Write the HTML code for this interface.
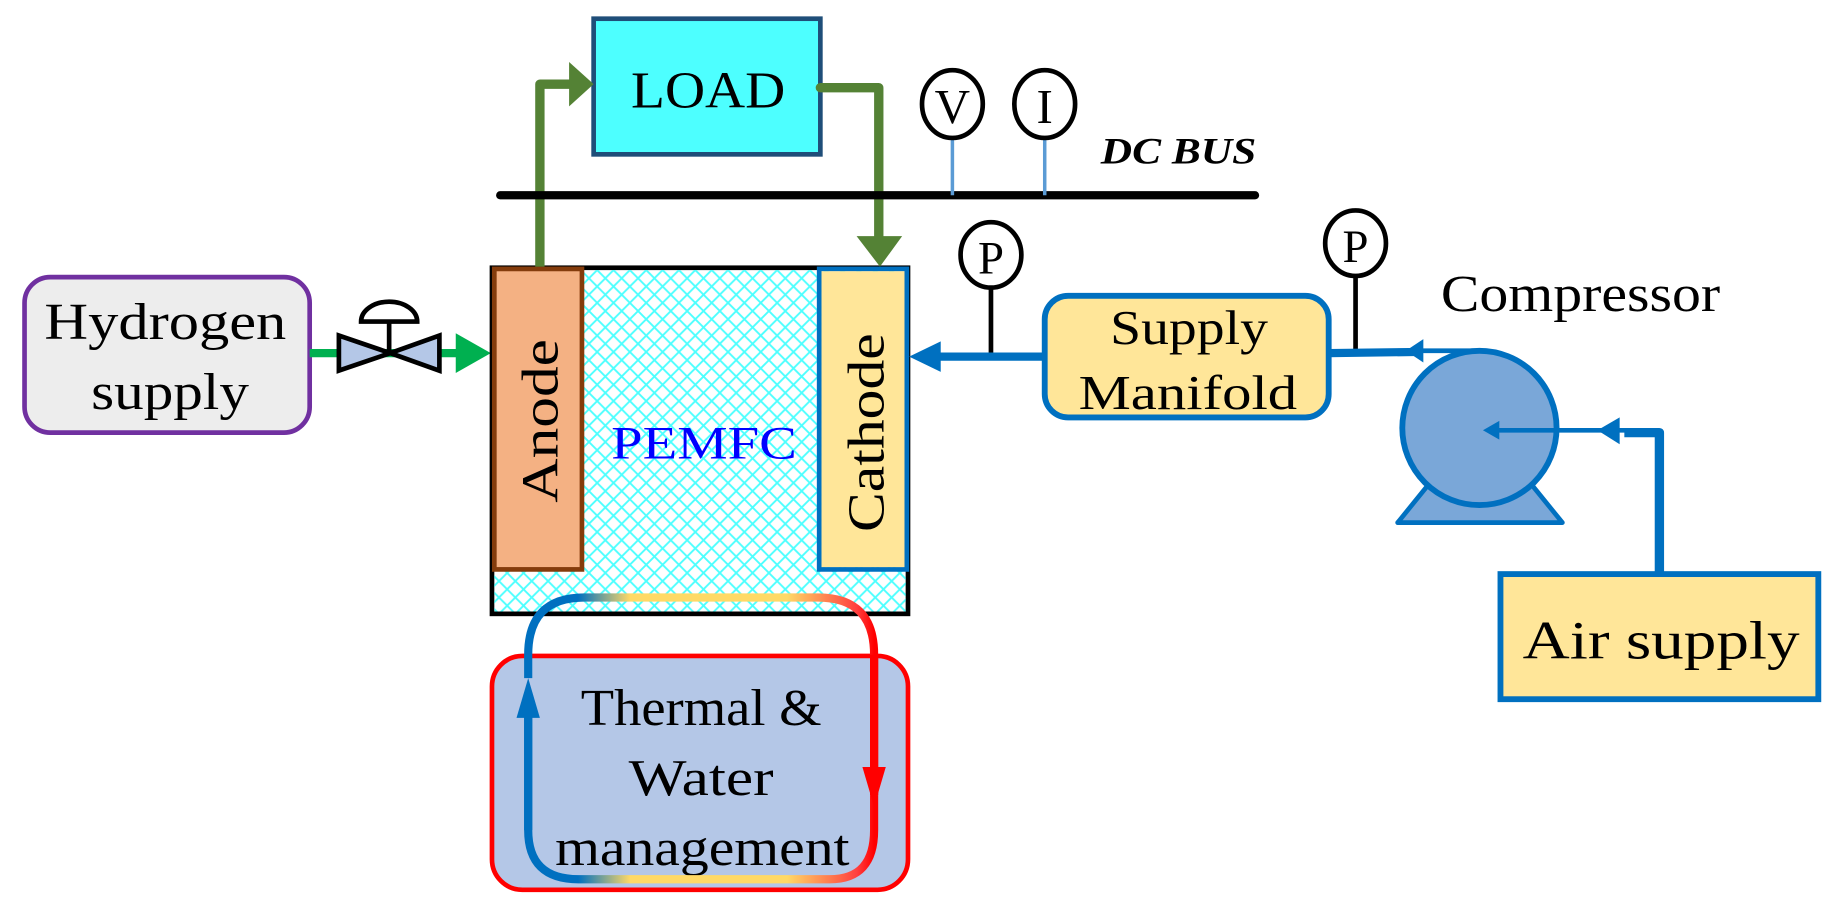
<!DOCTYPE html>
<html><head><meta charset="utf-8"><style>html,body{margin:0;padding:0;background:#fff}svg{display:block}</style></head>
<body>
<svg width="1823" height="912" viewBox="0 0 1560 780" preserveAspectRatio="none" xmlns="http://www.w3.org/2000/svg" font-family="Liberation Serif, serif">
<defs>
<pattern id="hatch" width="14" height="14" patternUnits="userSpaceOnUse">
<path d="M0 0L14 14M14 0L0 14" stroke="#4dffff" stroke-width="1.6"/>
</pattern>
<linearGradient id="gTop" x1="450" y1="0" x2="748" y2="0" gradientUnits="userSpaceOnUse">
<stop offset="0" stop-color="#0070c0"/><stop offset="0.15" stop-color="#0070c0"/><stop offset="0.3" stop-color="#ffd966"/><stop offset="0.75" stop-color="#ffd966"/><stop offset="0.95" stop-color="#ff4040"/><stop offset="1" stop-color="#ff0000"/>
</linearGradient>
</defs>
<!-- Hydrogen -->
<rect x="21" y="237" width="244" height="133" rx="22" fill="#ededed" stroke="#7030a0" stroke-width="4"/>
<text x="38" y="290" font-size="44" textLength="207" lengthAdjust="spacingAndGlyphs">Hydrogen</text>
<text x="78" y="350" font-size="44" textLength="135" lengthAdjust="spacingAndGlyphs">supply</text>
<line x1="265" y1="302" x2="395" y2="302" stroke="#00b050" stroke-width="7"/>
<polygon points="390,285 420,302 390,319" fill="#00b050"/>
<polygon points="334,302 290,287 290,317" fill="#b4c7e7" stroke="#000" stroke-width="4"/>
<polygon points="334,302 376,287 376,317" fill="#b4c7e7" stroke="#000" stroke-width="4"/>
<line x1="333" y1="302" x2="333" y2="276" stroke="#000" stroke-width="4"/>
<path d="M357 275 A24 17 0 0 0 309 275 Z" fill="#fff" stroke="#000" stroke-width="4"/>
<!-- PEMFC -->
<rect x="421" y="229" width="356" height="296" fill="#fff" stroke="#000" stroke-width="4"/>
<rect x="423" y="231" width="352" height="292" fill="url(#hatch)"/>
<rect x="423" y="230" width="75" height="257" fill="#f4b183" stroke="#843c0c" stroke-width="4"/>
<text transform="translate(477,430) rotate(-90)" font-size="44" textLength="140" lengthAdjust="spacingAndGlyphs">Anode</text>
<text transform="translate(756,455) rotate(-90)" font-size="44" textLength="170" lengthAdjust="spacingAndGlyphs">Cathode</text>
<rect x="701" y="230" width="75" height="257" fill="none" stroke="#0070c0" stroke-width="4"/>
<rect x="703" y="232" width="71" height="253" fill="#ffe699"/>
<text transform="translate(756,455) rotate(-90)" font-size="44" textLength="170" lengthAdjust="spacingAndGlyphs">Cathode</text>
<text x="523" y="392" font-size="40" fill="#0000ff" textLength="159" lengthAdjust="spacingAndGlyphs">PEMFC</text>
<!-- LOAD -->
<rect x="508" y="16" width="194" height="116" fill="#4dffff" stroke="#1f4e79" stroke-width="4"/>
<text x="540" y="92" font-size="44" textLength="132" lengthAdjust="spacingAndGlyphs">LOAD</text>
<path d="M462 228 V72 H492" fill="none" stroke="#548235" stroke-width="8" stroke-linejoin="round"/>
<polygon points="487,53 508,72 487,91" fill="#548235"/>
<path d="M702 75 H752 V212" fill="none" stroke="#548235" stroke-width="8" stroke-linejoin="round" stroke-linecap="round"/>
<polygon points="733,202 772,202 753,228" fill="#548235"/>
<!-- DC bus -->
<line x1="428" y1="167" x2="1074" y2="167" stroke="#000" stroke-width="7" stroke-linecap="round"/>
<line x1="815" y1="116" x2="815" y2="167" stroke="#5b9bd5" stroke-width="3"/>
<line x1="894" y1="116" x2="894" y2="167" stroke="#5b9bd5" stroke-width="3"/>
<ellipse cx="815" cy="89" rx="26" ry="29" fill="#fff" stroke="#000" stroke-width="4"/>
<text x="815" y="105" font-size="42" text-anchor="middle">V</text>
<ellipse cx="894" cy="89" rx="26" ry="29" fill="#fff" stroke="#000" stroke-width="4"/>
<text x="894" y="105" font-size="42" text-anchor="middle">I</text>
<text x="942" y="140" font-size="32" font-weight="bold" font-style="italic" textLength="133" lengthAdjust="spacingAndGlyphs">DC BUS</text>
<!-- P sensors -->
<line x1="848" y1="244" x2="848" y2="306" stroke="#000" stroke-width="4"/>
<ellipse cx="848" cy="218" rx="26" ry="28" fill="#fff" stroke="#000" stroke-width="4"/>
<text x="848" y="234" font-size="40" text-anchor="middle">P</text>
<line x1="1160" y1="234" x2="1160" y2="302" stroke="#000" stroke-width="4"/>
<ellipse cx="1160" cy="208" rx="26" ry="28" fill="#fff" stroke="#000" stroke-width="4"/>
<text x="1160" y="224" font-size="40" text-anchor="middle">P</text>
<!-- Manifold -->
<line x1="800" y1="305" x2="893" y2="305" stroke="#0070c0" stroke-width="7"/>
<polygon points="778,305 805,292 805,318" fill="#0070c0"/>
<rect x="894" y="253" width="243" height="104" rx="20" fill="#ffe699" stroke="#0070c0" stroke-width="5"/>
<text x="950" y="294" font-size="42" textLength="135" lengthAdjust="spacingAndGlyphs">Supply</text>
<text x="923" y="350" font-size="42" textLength="187" lengthAdjust="spacingAndGlyphs">Manifold</text>
<line x1="1137" y1="302" x2="1215" y2="301" stroke="#0070c0" stroke-width="7"/>
<line x1="1210" y1="300" x2="1272" y2="300" stroke="#0070c0" stroke-width="4"/>
<polygon points="1203,300 1218,290 1218,310" fill="#0070c0"/>
<text x="1233" y="266" font-size="44" textLength="239" lengthAdjust="spacingAndGlyphs">Compressor</text>
<!-- Compressor -->
<polygon points="1226,410 1196,447 1337,447 1307,410" fill="#7aa7d8" stroke="#0070c0" stroke-width="4" stroke-linejoin="round"/>
<circle cx="1266" cy="366" r="66" fill="#7aa7d8" stroke="#0070c0" stroke-width="5"/>
<path d="M1420 490 V370 H1390" fill="none" stroke="#0070c0" stroke-width="8" stroke-linejoin="round"/>
<line x1="1395" y1="368" x2="1282" y2="368" stroke="#0070c0" stroke-width="4"/>
<polygon points="1367,368 1386,357 1386,380" fill="#0070c0"/>
<polygon points="1269,368 1283,360 1283,376" fill="#0070c0"/>
<!-- Air supply -->
<rect x="1284" y="491" width="272" height="107" fill="#ffe699" stroke="#0070c0" stroke-width="5"/>
<text x="1303" y="563" font-size="46" textLength="237" lengthAdjust="spacingAndGlyphs">Air supply</text>
<!-- Thermal -->
<rect x="421" y="561" width="356" height="200" rx="26" fill="#b4c7e7" stroke="#ff0000" stroke-width="4"/>
<text x="497" y="620" font-size="44" textLength="206" lengthAdjust="spacingAndGlyphs">Thermal &amp;</text>
<text x="538" y="680" font-size="44" textLength="124" lengthAdjust="spacingAndGlyphs">Water</text>
<text x="475" y="740" font-size="44" textLength="252" lengthAdjust="spacingAndGlyphs">management</text>
<path d="M452 580 V560 Q452 511 500 511 H700 Q748 511 748 560 V680" fill="none" stroke="url(#gTop)" stroke-width="7"/>
<path d="M748 680 V710 Q748 752 710 752 H495 Q452 752 452 710 V600" fill="none" stroke="url(#gTop)" stroke-width="7"/>
<line x1="748" y1="560" x2="748" y2="680" stroke="#ff0000" stroke-width="7"/>
<line x1="452" y1="600" x2="452" y2="710" stroke="#0070c0" stroke-width="7"/>
<polygon points="452,580 442,614 462,614" fill="#0070c0"/>
<polygon points="748,690 738,656 758,656" fill="#ff0000"/>
</svg>
</body></html>
